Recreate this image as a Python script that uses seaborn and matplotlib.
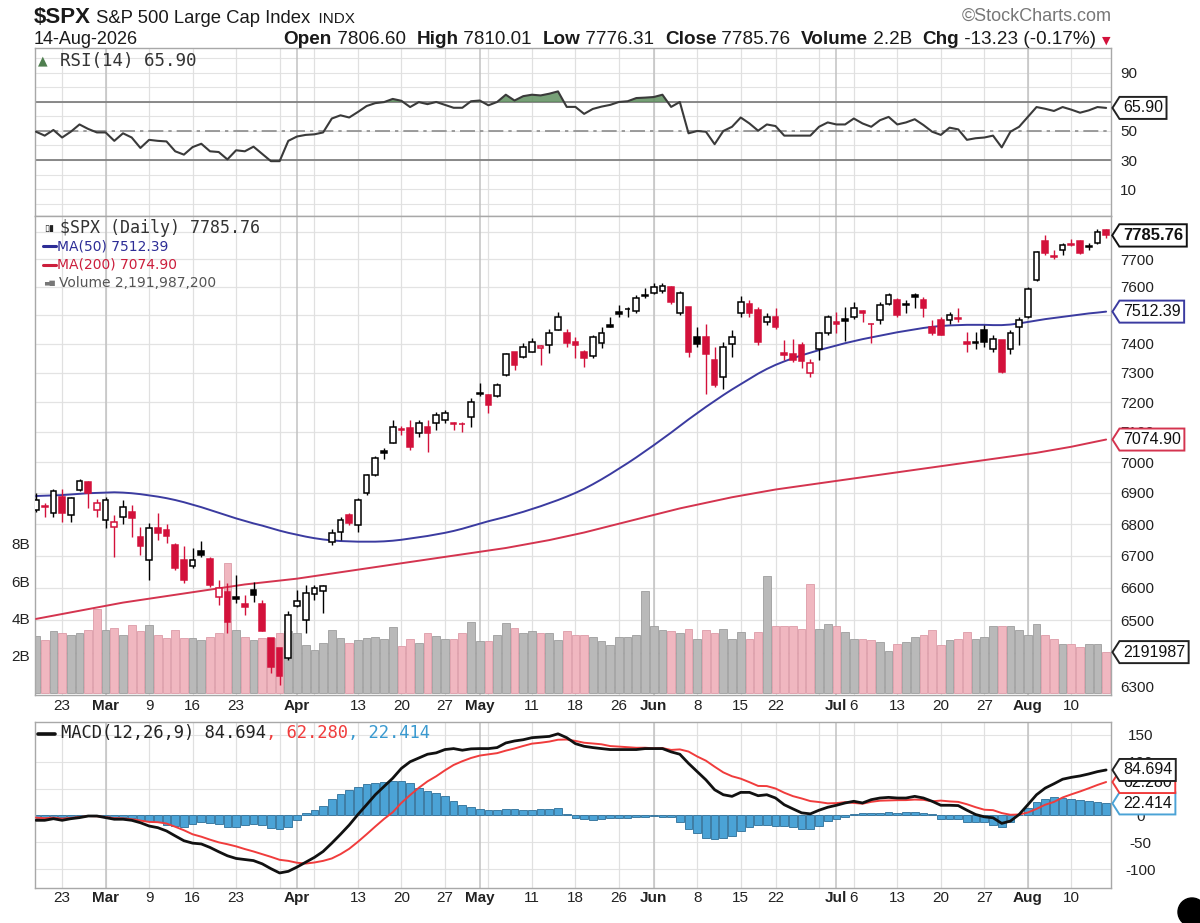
import numpy as np
import pandas as pd
import matplotlib
matplotlib.use("Agg")
import matplotlib.pyplot as plt
import matplotlib.transforms as mtransforms
from matplotlib.path import Path
from matplotlib.patches import Ellipse
from matplotlib.lines import Line2D
from matplotlib.ticker import NullLocator, NullFormatter
import seaborn as sns

# ------------------------------------------------------------
# values: $SPX daily, 18-Feb-2026 .. 14-Aug-2026
# ------------------------------------------------------------
holidays = ["2026-04-03", "2026-05-25", "2026-06-19", "2026-07-03"]
close_before = 6850.0   # close of the day before the first candle

opens = [
    6845, 6858, 6834, 6888, 6828, 6908, 6936, 6845, 6813, 6792,
    6823, 6840, 6760, 6687, 6787, 6781, 6734, 6687, 6666, 6713,
    6690, 6572, 6588, 6570, 6550, 6593, 6550, 6445, 6415, 6385,
    6545, 6501, 6580, 6590, 6743, 6776, 6828, 6797, 6899, 6958,
    7037, 7065, 7110, 7112, 7096, 7118, 7129, 7140, 7131, 7128,
    7151, 7230, 7224, 7221, 7292, 7373, 7355, 7373, 7384, 7396,
    7448, 7436, 7407, 7373, 7356, 7401, 7464, 7510, 7522, 7513,
    7570, 7580, 7585, 7600, 7506, 7530, 7425, 7424, 7343, 7286,
    7400, 7506, 7541, 7518, 7476, 7494, 7368, 7366, 7395, 7300,
    7383, 7436, 7476, 7488, 7494, 7514, 7470, 7482, 7541, 7553,
    7540, 7570, 7553, 7459, 7482, 7482, 7490, 7406, 7406, 7447,
    7383, 7412, 7383, 7459, 7494, 7625, 7765, 7712, 7734, 7753,
    7765, 7748, 7759, 7806.60]
highs = [
    6899, 6866, 6912, 6912, 6888, 6945, 6940, 6880, 6888, 6828,
    6877, 6862, 6792, 6802, 6834, 6800, 6740, 6729, 6724, 6745,
    6697, 6624, 6614, 6640, 6578, 6619, 6562, 6445, 6415, 6527,
    6592, 6608, 6608, 6608, 6785, 6823, 6835, 6882, 6963, 7020,
    7048, 7140, 7120, 7140, 7140, 7140, 7168, 7175, 7134, 7134,
    7213, 7264, 7227, 7264, 7367, 7373, 7401, 7419, 7396, 7453,
    7512, 7453, 7424, 7378, 7430, 7459, 7494, 7536, 7530, 7571,
    7595, 7615, 7615, 7605, 7585, 7530, 7459, 7470, 7389, 7406,
    7447, 7567, 7553, 7530, 7506, 7524, 7412, 7418, 7406, 7346,
    7442, 7500, 7512, 7530, 7547, 7518, 7472, 7545, 7578, 7559,
    7553, 7577, 7565, 7482, 7494, 7510, 7524, 7442, 7442, 7465,
    7430, 7412, 7447, 7494, 7600, 7730, 7789, 7734, 7759, 7771,
    7768, 7759, 7808, 7810.01]
lows = [
    6840, 6823, 6822, 6808, 6808, 6905, 6850, 6823, 6787, 6697,
    6800, 6760, 6703, 6624, 6750, 6740, 6655, 6614, 6660, 6697,
    6603, 6547, 6461, 6552, 6517, 6557, 6466, 6341, 6306, 6380,
    6540, 6461, 6562, 6522, 6733, 6750, 6797, 6776, 6894, 6955,
    7012, 7065, 7090, 7040, 7085, 7034, 7107, 7130, 7107, 7100,
    7118, 7220, 7162, 7218, 7290, 7310, 7350, 7373, 7327, 7367,
    7448, 7390, 7350, 7321, 7350, 7384, 7457, 7495, 7495, 7507,
    7560, 7575, 7580, 7540, 7500, 7355, 7389, 7229, 7252, 7245,
    7355, 7494, 7494, 7395, 7465, 7453, 7343, 7338, 7315, 7285,
    7343, 7430, 7436, 7410, 7488, 7476, 7404, 7470, 7535, 7494,
    7506, 7524, 7494, 7430, 7430, 7470, 7476, 7372, 7383, 7389,
    7372, 7300, 7366, 7394, 7490, 7620, 7715, 7700, 7716, 7746,
    7720, 7734, 7755, 7776.31]
closes = [
    6877, 6855, 6905, 6834, 6882, 6939, 6899, 6869, 6877, 6808,
    6856, 6818, 6729, 6787, 6771, 6763, 6660, 6624, 6687, 6703,
    6608, 6598, 6496, 6565, 6542, 6578, 6466, 6360, 6331, 6517,
    6560, 6583, 6600, 6606, 6771, 6813, 6802, 6877, 6958, 7013,
    7032, 7118, 7105, 7051, 7129, 7096, 7157, 7164, 7128, 7126,
    7202, 7227, 7190, 7258, 7364, 7327, 7390, 7407, 7393, 7436,
    7495, 7401, 7396, 7350, 7424, 7436, 7460, 7505, 7521, 7559,
    7567, 7598, 7602, 7547, 7580, 7370, 7400, 7366, 7258, 7389,
    7424, 7547, 7506, 7406, 7494, 7459, 7360, 7345, 7340, 7335,
    7436, 7494, 7470, 7480, 7524, 7506, 7468, 7535, 7571, 7500,
    7535, 7565, 7524, 7436, 7430, 7500, 7488, 7400, 7402, 7406,
    7418, 7303, 7436, 7482, 7594, 7725, 7722, 7706, 7752, 7750,
    7722, 7744, 7798.99, 7785.76]

# volume in billions of shares
volume_b = [
    3.03, 2.85, 3.30, 3.20, 3.10, 3.20, 3.40, 4.50, 3.40, 3.48,
    3.10, 3.65, 3.30, 3.65, 3.10, 2.95, 3.40, 2.95, 2.95, 2.85,
    3.00, 3.20, 7.00, 3.40, 3.00, 2.85, 2.95, 2.95, 3.20, 3.30,
    3.20, 2.60, 2.30, 2.70, 3.40, 2.95, 2.70, 2.85, 2.95, 3.00,
    2.90, 3.55, 2.50, 2.90, 2.70, 3.20, 3.05, 2.90, 2.90, 3.20,
    3.80, 2.80, 2.80, 3.10, 3.75, 3.50, 3.20, 3.30, 3.20, 3.20,
    2.85, 3.30, 3.10, 3.10, 3.00, 2.80, 2.60, 3.00, 3.00, 3.10,
    5.45, 3.60, 3.40, 3.35, 3.20, 3.45, 2.90, 3.37, 3.20, 3.45,
    2.90, 3.28, 2.90, 3.28, 6.30, 3.60, 3.60, 3.60, 3.45, 5.85,
    3.45, 3.70, 3.60, 3.28, 2.90, 2.90, 2.83, 2.72, 2.23, 2.63,
    2.72, 3.00, 3.10, 3.37, 2.60, 2.83, 2.92, 3.28, 2.90, 3.00,
    3.60, 3.60, 3.60, 3.40, 3.10, 3.70, 3.10, 2.90, 2.63, 2.63,
    2.47, 2.63, 2.63, 2.191987]

ma50 = [
    6890, 6891, 6892, 6893, 6895, 6897, 6899, 6900, 6901, 6902,
    6901, 6899, 6896, 6892, 6888, 6883, 6877, 6870, 6862, 6854,
    6845, 6836, 6827, 6818, 6810, 6802, 6795, 6787, 6779, 6772,
    6766, 6760, 6755, 6751, 6748, 6746, 6745, 6744, 6744, 6744,
    6745, 6747, 6750, 6754, 6758, 6762, 6767, 6772, 6778, 6785,
    6793, 6801, 6809, 6816, 6823, 6831, 6839, 6848, 6857, 6867,
    6877, 6888, 6900, 6913, 6928, 6944, 6961, 6979, 6997, 7016,
    7036, 7056, 7077, 7098, 7120, 7142, 7163, 7184, 7204, 7224,
    7243, 7261, 7279, 7297, 7313, 7327, 7339, 7350, 7360, 7369,
    7378, 7386, 7394, 7402, 7409, 7416, 7422, 7428, 7434, 7440,
    7445, 7450, 7455, 7459, 7462, 7464, 7465, 7466, 7466, 7466,
    7465, 7465, 7467, 7471, 7476, 7481, 7486, 7490, 7494, 7498,
    7502, 7506, 7509, 7512.39]
ma200 = [
    6504, 6509, 6514, 6519, 6524, 6529, 6534, 6539, 6544, 6549,
    6554, 6558, 6562, 6566, 6570, 6574, 6578, 6582, 6586, 6590,
    6594, 6598, 6602, 6606, 6610, 6613, 6616, 6619, 6622, 6625,
    6628, 6632, 6636, 6640, 6644, 6648, 6652, 6656, 6660, 6664,
    6668, 6672, 6676, 6680, 6684, 6688, 6692, 6696, 6700, 6704,
    6708, 6712, 6716, 6720, 6724, 6729, 6734, 6739, 6744, 6749,
    6755, 6761, 6767, 6773, 6780, 6787, 6794, 6801, 6808, 6815,
    6822, 6829, 6836, 6843, 6850, 6856, 6862, 6868, 6874, 6880,
    6886, 6891, 6896, 6901, 6906, 6911, 6915, 6919, 6923, 6927,
    6931, 6935, 6939, 6943, 6947, 6951, 6955, 6959, 6963, 6967,
    6971, 6975, 6979, 6983, 6987, 6991, 6995, 6999, 7003, 7007,
    7011, 7015, 7019, 7023, 7027, 7031, 7036, 7041, 7046, 7051,
    7057, 7063, 7069, 7074.90]

rsi = [
    49.5, 46.8, 50.7, 45.5, 49.5, 54.5, 51.4, 49.0, 49.0, 43.2,
    48.4, 45.5, 38.3, 43.9, 43.2, 42.8, 36.0, 33.7, 38.9, 41.2,
    36.0, 35.5, 30.4, 36.7, 36.0, 39.2, 34.2, 29.2, 29.2, 43.2,
    46.2, 47.3, 47.7, 49.0, 58.6, 60.8, 59.3, 63.1, 67.2, 69.2,
    69.9, 72.1, 70.8, 66.5, 69.9, 68.5, 70.0, 68.0, 66.0, 66.0,
    70.5, 71.0, 67.7, 70.0, 75.0, 71.0, 74.0, 75.0, 74.5, 75.7,
    77.3, 66.6, 66.6, 61.8, 65.2, 66.8, 68.0, 70.0, 70.5, 72.7,
    73.0, 73.4, 75.0, 66.6, 70.0, 48.4, 50.0, 49.5, 40.9, 50.0,
    52.9, 59.3, 55.2, 50.2, 54.5, 53.4, 46.8, 46.8, 46.8, 46.8,
    52.9, 55.9, 54.5, 54.5, 58.6, 55.2, 52.9, 57.4, 59.7, 54.5,
    55.9, 58.1, 54.1, 49.5, 47.3, 52.3, 51.1, 43.9, 45.0, 45.5,
    46.8, 38.7, 49.5, 52.9, 59.7, 66.5, 65.3, 63.8, 66.5, 64.7,
    62.6, 64.2, 66.5, 65.90]

macd = [
    -9, -9, -6, -9, -6, -4, -1, -1, -4, -7,
    -7, -9, -13.5, -19.6, -22.7, -28.8, -38, -47, -51.5, -53,
    -59.5, -67.5, -75, -80, -82, -84, -90, -99, -107, -104,
    -96, -87, -78, -67, -51.5, -35, -17.8, 1.8, 20, 38.6,
    54, 69.3, 87.7, 100, 107, 114, 116.6, 122.7, 124.5, 121.5,
    124, 124.5, 124.5, 126.4, 135, 138.7, 141, 144.8, 146, 147.2,
    152, 144.8, 133.7, 128.8, 126.4, 124.5, 122.7, 122.7, 122.7, 122.7,
    124.5, 124.5, 124.5, 118.4, 114, 97, 81.6, 66.3, 47.9, 38.6,
    35.6, 43, 43, 36.8, 38.6, 32.5, 20, 12.3, 4.9, 3,
    9.8, 15.3, 19, 23.3, 26.4, 23.3, 29.4, 32.5, 33.7, 32.5,
    32.5, 35.6, 32.5, 26.4, 19, 19, 18.4, 9.8, 1.8, -2.5,
    -4.3, -14.7, -10.4, 1.8, 20, 38.6, 51, 59, 67.5, 71,
    73.6, 77.3, 81.6, 84.694]
signal = [
    -4, -5, -4, -6, -4.5, -3, -1, -1.5, -3, -5,
    -5.5, -7, -9.5, -12, -12.5, -15, -21, -27.5, -35, -39.5,
    -45, -50, -53.5, -57.5, -62.5, -67, -72, -77, -82.5, -84.5,
    -88, -89.5, -87.5, -84.5, -80, -72, -62, -49, -35, -20.5,
    -6.5, 6, 23.5, 38, 51.5, 63.5, 73, 84, 94, 101,
    107, 111.5, 113.8, 116, 120.7, 124.7, 129.4, 133.7, 135.4, 137.6,
    141, 141.4, 138.8, 135.4, 134, 132.5, 129.2, 128.2, 127.1, 126,
    126.1, 125, 125.5, 122, 123, 119, 109.8, 102, 90.8, 80.2,
    73, 68.5, 62, 55, 54.7, 50.2, 42.4, 36, 31.7, 26.8,
    25, 22.6, 23, 24.8, 23.3, 21.9, 25.4, 27.5, 28, 28.5,
    28.6, 29.6, 29.1, 26.4, 27.7, 26.2, 25.3, 20.9, 15.4, 10.7,
    9.9, 4.5, 1.3, 1.8, 5.5, 12.3, 20, 25.2, 33.5, 39.3,
    44.7, 50.6, 56.8, 62.280]
hist = [
    -5, -5, -4, -3, -2, -1, -1, -1, -2, -2,
    -3, -5, -8, -10, -13, -18, -20, -21, -16, -13,
    -14, -16, -21, -21, -18, -16, -18, -23, -26, -22,
    -8, 4, 10, 18, 30, 40, 47, 53, 58, 61,
    63, 65, 64, 60, 52, 46, 42, 36, 27, 19,
    16, 12, 11, 11, 12, 12, 11, 11, 12, 12,
    13, 3, -4, -7, -8, -7, -5, -5, -4, -3,
    -2, -1, -2, -3, -12, -26, -32, -41, -44, -42,
    -38, -29, -21, -18, -18, -19, -20, -21, -26, -26,
    -20, -11, -7, -3, 3, 4, 5, 5, 6, 5,
    6, 7, 5, 3, -7, -7, -7, -12, -13, -13,
    -18, -22, -13, 0, 14, 25, 31, 35, 33, 31,
    29, 27, 25, 22.414]

tick_dates = ["2026-02-23", "2026-03-02", "2026-03-09", "2026-03-16", "2026-03-23",
              "2026-04-01", "2026-04-13", "2026-04-20", "2026-04-27", "2026-05-01",
              "2026-05-11", "2026-05-18", "2026-05-26", "2026-06-01", "2026-06-08",
              "2026-06-15", "2026-06-22", "2026-07-01", "2026-07-06", "2026-07-13",
              "2026-07-20", "2026-07-27", "2026-08-03", "2026-08-10"]
tick_labels = ["23", "Mar", "9", "16", "23", "Apr", "13", "20", "27", "May", "11", "18",
               "26", "Jun", "8", "15", "22", "Jul", "6", "13", "20", "27", "Aug", "10"]
price_levels = [6300, 6400, 6500, 6600, 6700, 6800, 6900, 7000, 7100, 7200,
                7300, 7400, 7500, 7600, 7700]
volume_levels = [2, 4, 6, 8]
rsi_levels = [10, 30, 50, 70, 90]
macd_levels = [-100, -50, 0, 50, 100, 150]

# ------------------------------------------------------------
# setup
# ------------------------------------------------------------
dates = pd.bdate_range("2026-02-18", "2026-08-14", freq="C", holidays=holidays)
x = np.arange(len(dates))
opens, highs, lows, closes = map(np.array, (opens, highs, lows, closes))
rsi = np.array(rsi)

tick_idx = [dates.get_loc(pd.Timestamp(d)) for d in tick_dates]
week_idx = [i for i in range(1, len(dates)) if dates[i].weekday() < dates[i - 1].weekday()]
month_idx = [i for i in range(1, len(dates)) if dates[i].month != dates[i - 1].month]

sns.set_theme(style="white")
plt.rcParams["font.family"] = ["Liberation Sans", "DejaVu Sans"]
plt.rcParams["axes.unicode_minus"] = False
MONO = ["DejaVu Sans Mono", "DejaVu Sans"]

W, H = 1200, 923
fig = plt.figure(figsize=(W / 100, H / 100), dpi=100)
fig.patch.set_facecolor("white")


def px(xp, yp):
    return xp / W, 1 - yp / H


def panel(top, bottom):
    return [35 / W, 1 - bottom / H, (1111 - 35) / W, (bottom - top) / H]


ax_r = fig.add_axes(panel(48, 216))
ax_v = fig.add_axes(panel(216, 695))
ax_p = ax_v.twinx()
ax_m = fig.add_axes(panel(722, 888))

RED = "#d3113b"
GRID = "#e3e3e3"
XLIM = (-0.115, 123.56)

for ax in (ax_r, ax_v, ax_m):
    ax.set_facecolor("white")
    for s in ax.spines.values():
        s.set_color("#a8a8a8")
        s.set_linewidth(1.0)
    for i in week_idx:
        ax.axvline(i, color="#e0e0e0", lw=0.9, zorder=0.5)
    for i in month_idx:
        ax.axvline(i, color="#c2c2c2", lw=1.1, zorder=0.6)
for s in ax_p.spines.values():
    s.set_visible(False)

# ------------------------------------------------------------
# RSI panel
# ------------------------------------------------------------
for lev in range(0, 101, 10):
    ax_r.axhline(lev, color=GRID, lw=0.8, zorder=0.4)
ax_r.axhline(70, color="#808080", lw=1.3, zorder=1)
ax_r.axhline(30, color="#808080", lw=1.3, zorder=1)
ax_r.axhline(50, color="#8c8c8c", lw=1.2, dashes=(9, 3, 2, 3), zorder=1)
ax_r.fill_between(x, rsi, 70, where=rsi > 70, interpolate=True, color="#5f8f5f", alpha=0.85, lw=0, zorder=2)
ax_r.fill_between(x, rsi, 30, where=rsi < 30, interpolate=True, color="#5f8f5f", alpha=0.85, lw=0, zorder=2)
sns.lineplot(x=x, y=rsi, ax=ax_r, color="#3a3a3a", lw=1.5, legend=False, zorder=3)
ax_r.set_ylim(-8.6, 107.2)
ax_r.set_yticks(rsi_levels)
ax_r.yaxis.tick_right()

# ------------------------------------------------------------
# price + volume panel
# ------------------------------------------------------------
ax_p.set_yscale("log")
prev_close = np.r_[close_before, closes[:-1]]
up_day = closes >= prev_close
edge = np.where(up_day, "black", RED)
face = np.where(closes > opens, "white", edge)

vol_fc = np.where(up_day, "#b9b9b9", "#f0b7c0")
vol_ec = np.where(up_day, "#9d9d9d", "#dc9ba7")
ax_v.bar(x, volume_b, width=0.88, color=vol_fc, edgecolor=vol_ec, linewidth=0.6, zorder=2)

tr_price = mtransforms.blended_transform_factory(ax_v.transAxes, ax_p.transData)
for lev in range(6300, 7900, 100):
    ax_v.plot([0, 1], [lev, lev], transform=tr_price, color=GRID, lw=0.9, zorder=0.4)

sns.lineplot(x=x, y=ma200, ax=ax_p, color="#d4344f", lw=1.4, legend=False, zorder=2)
sns.lineplot(x=x, y=ma50, ax=ax_p, color="#3b3ba0", lw=1.4, legend=False, zorder=2)
ax_p.vlines(x, lows, highs, colors=edge, lw=1.0, zorder=3)
body_lo = np.minimum(opens, closes)
body_h = np.maximum(np.abs(closes - opens), 1.5)
ax_p.bar(x, body_h, bottom=body_lo, width=0.66, color=face, edgecolor=edge, linewidth=1.1, zorder=4)

ax_p.set_ylim(6276, 7857)
ax_p.set_yticks(price_levels)
ax_p.set_yticklabels([str(v) for v in price_levels])
ax_p.yaxis.set_minor_locator(NullLocator())
ax_p.yaxis.set_minor_formatter(NullFormatter())
ax_v.set_ylim(-0.11, 25.6)
ax_v.set_yticks(volume_levels)
ax_v.set_yticklabels([f"{v}B" for v in volume_levels])

# ------------------------------------------------------------
# MACD panel
# ------------------------------------------------------------
for lev in range(-100, 151, 50):
    ax_m.axhline(lev, color=GRID, lw=0.8, zorder=0.4)
ax_m.bar(x, hist, width=0.88, color="#4ba3d6", edgecolor="#2c6e98", linewidth=0.6, zorder=2)
sns.lineplot(x=x, y=signal, ax=ax_m, color="#f03c3c", lw=1.4, legend=False, zorder=3)
sns.lineplot(x=x, y=macd, ax=ax_m, color="#111111", lw=2.0, legend=False, zorder=4)
ax_m.set_ylim(-135, 174)
ax_m.set_yticks(macd_levels)
ax_m.yaxis.tick_right()

# ------------------------------------------------------------
# axes cosmetics
# ------------------------------------------------------------
for ax in (ax_r, ax_v, ax_p, ax_m):
    ax.set_xlim(*XLIM)
    ax.set_xlabel("")
    ax.set_ylabel("")
    ax.tick_params(length=0, labelsize=11, colors="#222222")
    ax.grid(False)

ax_r.tick_params(axis="y", pad=6.5)
ax_p.tick_params(axis="y", pad=6.5)
ax_v.tick_params(axis="y", pad=3.6)
ax_m.tick_params(axis="y", pad=21)
for lbl in ax_m.get_yticklabels():
    lbl.set_horizontalalignment("center")

ax_r.set_xticks(tick_idx)
ax_r.set_xticklabels([])
for ax, pad in ((ax_v, 3.0), (ax_m, 2.5)):
    ax.set_xticks(tick_idx)
    ax.set_xticklabels(tick_labels)
    ax.tick_params(axis="x", pad=pad)
    for lbl, name in zip(ax.get_xticklabels(), tick_labels):
        if name.isalpha():
            lbl.set_fontweight("bold")


# ------------------------------------------------------------
# value tags on the right edge
# ------------------------------------------------------------
def tag_style(x0, y0, width, height, mutation_size):
    pad = 0.22 * mutation_size
    x0, y0 = x0 - pad, y0 - pad
    w, h = width + 2 * pad, height + 2 * pad
    tip = 0.32 * h
    verts = [(x0 - tip, y0 + h / 2), (x0, y0 + h), (x0 + w, y0 + h),
             (x0 + w, y0), (x0, y0), (x0 - tip, y0 + h / 2)]
    return Path(verts, closed=True)


def tag(ax, yval, text, ec, ydata=None, bold=False, fs=11.5):
    tr = mtransforms.blended_transform_factory(ax.transAxes, (ydata or ax).transData)
    ax.annotate(text, xy=(1, yval), xycoords=tr, xytext=(12, 0), textcoords="offset pixels",
                ha="left", va="center", fontsize=fs, color="#111111",
                fontweight="bold" if bold else "normal",
                bbox=dict(boxstyle=tag_style, fc="white", ec=ec, lw=1.4),
                annotation_clip=False, zorder=10)


tag(ax_r, rsi[-1], "65.90", "#222222")
tag(ax_p, ma200[-1], "7074.90", "#d4344f")
tag(ax_p, ma50[-1], "7512.39", "#3b3ba0")
tag(ax_p, volume_b[-1], "2191987", "#222222", ydata=ax_v)
tag(ax_p, closes[-1], "7785.76", "#111111", bold=True, fs=12)
tag(ax_m, hist[-1], "22.414", "#4ba3d6")
tag(ax_m, signal[-1], "62.280", "#f03c3c")
tag(ax_m, macd[-1], "84.694", "#222222")

# ------------------------------------------------------------
# header and panel legends
# ------------------------------------------------------------
renderer = fig.canvas.get_renderer()


def run_text(parts, x0, y_base, x_end=None):
    texts, xs = [], x0
    for s, kw in parts:
        t = fig.text(xs / W, 1 - y_base / H, s, va="baseline", **kw)
        xs = t.get_window_extent(renderer).x1
        texts.append(t)
    if x_end is not None:
        shift = (x_end - xs) / W
        for t in texts:
            xx, yy = t.get_position()
            t.set_position((xx + shift, yy))


def dash(x0, x1, y, color, lw=2.2):
    fig.add_artist(Line2D([x0 / W, x1 / W], [1 - y / H, 1 - y / H], color=color, lw=lw,
                          transform=fig.transFigure))


HC = "#1a1a1a"
run_text([("$SPX", dict(fontsize=16, fontweight="bold", color=HC)),
          (" S&P 500 Large Cap Index", dict(fontsize=13.3, color=HC)),
          ("  INDX", dict(fontsize=11, color=HC))], 34, 23)
fig.text(*px(34, 44), "14-Aug-2026", fontsize=13, color=HC, va="baseline")
B = dict(fontsize=13.6, fontweight="bold", color=HC)
R = dict(fontsize=13.6, color=HC)
run_text([("Open", B), (" 7806.60  ", R), ("High", B), (" 7810.01  ", R),
          ("Low", B), (" 7776.31  ", R), ("Close", B), (" 7785.76  ", R),
          ("Volume", B), (" 2.2B  ", R), ("Chg", B), (" -13.23 (-0.17%) ", R),
          ("▼", dict(fontsize=8, color=RED, family=["DejaVu Sans"]))], 280, 44, x_end=1110)
fig.text(*px(1112, 16), "©StockCharts.com", fontsize=13, color="#777777", ha="right", va="center")

# RSI legend with small mountain icon
fig.text(*px(38, 61), "▲", fontsize=9, color="#4f7f4f", va="center", family=["DejaVu Sans"])
fig.text(*px(60, 61), "RSI(14) 65.90", fontsize=12.6, color="#333333", va="center", family=MONO)

# price legend
fig.text(*px(44, 228), "▯▮", fontsize=6.5, color="#222222", va="center", family=["DejaVu Sans"])
fig.text(*px(60, 228), "$SPX (Daily) 7785.76", fontsize=12, color="#333333", va="center", family=MONO)
dash(43, 56, 246, "#2d2d96")
fig.text(*px(57, 246), "MA(50) 7512.39", fontsize=10, color="#2d2d96", va="center", family=["DejaVu Sans"])
dash(43, 56, 265, "#cc1e3c")
fig.text(*px(57, 265), "MA(200) 7074.90", fontsize=10, color="#cc1e3c", va="center", family=["DejaVu Sans"])
fig.text(*px(44, 283), "▄▆", fontsize=5, color="#777777", va="center", family=["DejaVu Sans"])
fig.text(*px(59, 283), "Volume 2,191,987,200", fontsize=10, color="#555555", va="center", family=["DejaVu Sans"])

# MACD legend
dash(38, 55, 734, "#111111", lw=2.6)
run_text([("MACD(12,26,9) 84.694", dict(fontsize=12.3, color="#222222", family=MONO)),
          (", 62.280", dict(fontsize=12.3, color="#f03c3c", family=MONO)),
          (", 22.414", dict(fontsize=12.3, color="#3a9ad0", family=MONO))], 61, 738)

fig.add_artist(Ellipse(px(1192, 912), width=28 / W, height=28 / H,
                       transform=fig.transFigure, color="black"))

fig.savefig("out.png", dpi=100, facecolor="white")
